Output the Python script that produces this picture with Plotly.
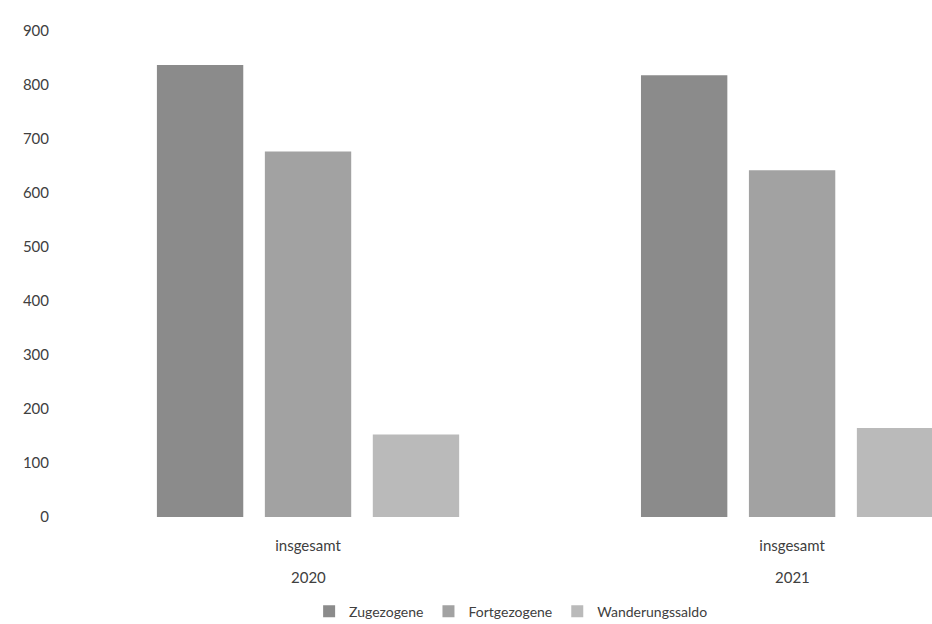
import plotly.graph_objects as go

# Wanderungen: Zugezogene, Fortgezogene und Saldo je Jahr
years = ["2020", "2021"]
group_label = "insgesamt"
series_names = ["Zugezogene", "Fortgezogene", "Wanderungssaldo"]
zugezogene = [837, 818]
fortgezogene = [677, 642]
wanderungssaldo = [153, 165]
y_ticks = [0, 100, 200, 300, 400, 500, 600, 700, 800, 900]

colors = ["#8b8b8b", "#a2a2a2", "#bababa"]
font_family = "Lato, 'Open Sans', sans-serif"
text_color = "#404040"

fig = go.Figure()
for name, vals, col in zip(series_names, [zugezogene, fortgezogene, wanderungssaldo], colors):
    fig.add_trace(go.Bar(
        name=name,
        x=list(range(len(years))),
        y=vals,
        marker=dict(color=col, line=dict(width=0)),
    ))

# second row of category labels: the year under each group
for i, yr in enumerate(years):
    fig.add_annotation(
        x=i, xref="x",
        y=-0.1235, yref="paper", yanchor="middle",
        text=yr, showarrow=False,
        font=dict(family=font_family, size=15, color=text_color),
    )

fig.update_layout(
    width=932,
    height=624,
    margin=dict(l=66, r=0, t=31, b=107, autoexpand=False),
    paper_bgcolor="white",
    plot_bgcolor="white",
    barmode="group",
    bargap=0.331,
    bargroupgap=0.2,
    font=dict(family=font_family, size=15, color=text_color),
    showlegend=True,
    legend=dict(
        orientation="h",
        x=0.514, xanchor="center",
        y=-0.195, yanchor="middle",
        font=dict(size=14, color=text_color),
        itemwidth=30,
        traceorder="normal",
    ),
    xaxis=dict(
        range=[-0.5, 1.289],
        tickmode="array",
        tickvals=list(range(len(years))),
        ticktext=[group_label for _ in years],
        showgrid=False,
        zeroline=False,
        showline=False,
        ticks="",
        ticklabelstandoff=18,
        automargin=False,
    ),
    yaxis=dict(
        range=[0, 900],
        tickmode="array",
        tickvals=y_ticks,
        showgrid=False,
        zeroline=False,
        showline=False,
        ticks="",
        ticklabelstandoff=16,
        automargin=False,
    ),
)

fig.write_html("out.html")
